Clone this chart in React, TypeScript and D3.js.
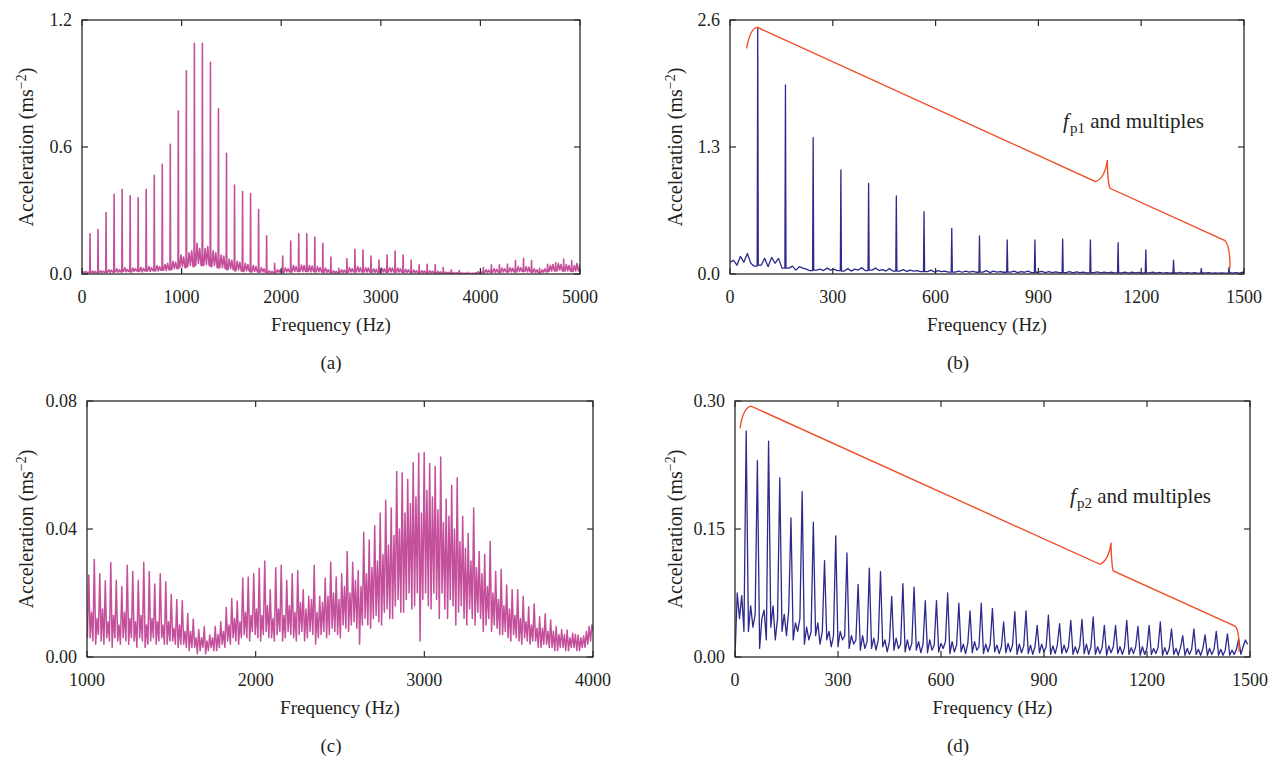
import React from 'react';
import * as d3 from 'd3';

// ---------- Panel (a): broadband spectrum, fundamental fp1 ----------
const aF0 = 80.6;
const aPeaks = [
  0.19, 0.21, 0.29, 0.376, 0.40, 0.37, 0.36, 0.40, 0.466, 0.518,
  0.613, 0.77, 0.96, 1.09, 1.09, 1.0, 0.78, 0.57, 0.42, 0.39,
  0.38, 0.305, 0.18, 0.05, 0.085, 0.156, 0.19, 0.19, 0.175, 0.145,
  0.08, 0.027, 0.072, 0.117, 0.113, 0.085, 0.066, 0.09, 0.109, 0.09,
  0.066, 0.043, 0.046, 0.043, 0.03, 0.02, 0.016, 0.008, 0.006, 0.03,
  0.043, 0.043, 0.047, 0.063, 0.074, 0.063, 0.027, 0.046, 0.054, 0.071,
  0.063, 0.043,
];
const aFloor = [
  0.01, 0.006, 0.012, 0.005, 0.008,
  0.006, 0.014, 0.005, 0.012, 0.006,
  0.007, 0.015, 0.006, 0.013, 0.008,
  0.008, 0.02, 0.007, 0.018, 0.009,
  0.01, 0.025, 0.008, 0.02, 0.01,
  0.012, 0.03, 0.01, 0.022, 0.012,
  0.01, 0.028, 0.012, 0.025, 0.014,
  0.012, 0.032, 0.01, 0.027, 0.015,
  0.014, 0.035, 0.012, 0.03, 0.016,
  0.015, 0.04, 0.014, 0.035, 0.018,
  0.018, 0.045, 0.016, 0.05, 0.02,
  0.02, 0.06, 0.025, 0.055, 0.025,
  0.03, 0.09, 0.035, 0.08, 0.03,
  0.035, 0.1, 0.04, 0.11, 0.035,
  0.04, 0.145, 0.05, 0.12, 0.04,
  0.04, 0.12, 0.045, 0.13, 0.04,
  0.035, 0.11, 0.04, 0.1, 0.03,
  0.03, 0.09, 0.03, 0.085, 0.025,
  0.02, 0.07, 0.025, 0.065, 0.02,
  0.015, 0.06, 0.02, 0.055, 0.015,
  0.012, 0.05, 0.015, 0.045, 0.012,
  0.01, 0.04, 0.012, 0.035, 0.01,
  0.008, 0.03, 0.01, 0.025, 0.008,
  0.006, 0.015, 0.005, 0.012, 0.006,
  0.006, 0.02, 0.008, 0.018, 0.008,
  0.008, 0.03, 0.01, 0.025, 0.01,
  0.01, 0.04, 0.012, 0.035, 0.012,
  0.012, 0.042, 0.012, 0.04, 0.012,
  0.012, 0.04, 0.01, 0.038, 0.012,
  0.01, 0.035, 0.01, 0.03, 0.01,
  0.008, 0.028, 0.008, 0.02, 0.008,
  0.006, 0.015, 0.005, 0.012, 0.006,
  0.006, 0.02, 0.007, 0.018, 0.008,
  0.008, 0.03, 0.01, 0.025, 0.01,
  0.01, 0.035, 0.01, 0.03, 0.01,
  0.01, 0.03, 0.009, 0.028, 0.01,
  0.008, 0.025, 0.008, 0.022, 0.008,
  0.008, 0.028, 0.009, 0.025, 0.009,
  0.009, 0.03, 0.01, 0.028, 0.01,
  0.008, 0.028, 0.009, 0.024, 0.008,
  0.007, 0.022, 0.007, 0.02, 0.007,
  0.006, 0.018, 0.006, 0.015, 0.006,
  0.005, 0.016, 0.005, 0.014, 0.005,
  0.005, 0.015, 0.005, 0.013, 0.005,
  0.004, 0.012, 0.004, 0.01, 0.004,
  0.003, 0.009, 0.003, 0.008, 0.003,
  0.003, 0.007, 0.002, 0.006, 0.002,
  0.002, 0.005, 0.002, 0.004, 0.002,
  0.002, 0.004, 0.002, 0.004, 0.002,
  0.003, 0.01, 0.004, 0.012, 0.005,
  0.006, 0.02, 0.007, 0.018, 0.008,
  0.008, 0.025, 0.008, 0.022, 0.009,
  0.008, 0.028, 0.01, 0.025, 0.01,
  0.01, 0.03, 0.01, 0.027, 0.01,
  0.01, 0.035, 0.012, 0.03, 0.012,
  0.012, 0.035, 0.01, 0.032, 0.01,
  0.008, 0.025, 0.008, 0.02, 0.006,
  0.006, 0.02, 0.008, 0.025, 0.01,
  0.012, 0.04, 0.014, 0.045, 0.015,
  0.015, 0.05, 0.018, 0.045, 0.015,
  0.014, 0.045, 0.015, 0.04, 0.014,
  0.012, 0.04, 0.014, 0.05, 0.015,
  0.015, 0.04, 0.02, 0.035, 0.03,
];
const aStart = 0.01;
const aXTicks = [0, 1000, 2000, 3000, 4000, 5000];
const aYTicks = [0, 0.6, 1.2];

// ---------- Panel (b): fp1 and multiples ----------
const bF0 = 80.9;
const bPeaks = [2.52, 1.935, 1.396, 1.065, 0.928, 0.80, 0.638, 0.468, 0.389, 0.348, 0.348, 0.358, 0.348, 0.32, 0.246, 0.143, 0.058, 0.068];
const bFloor = [
  0.14, 0.09, 0.18, 0.12, 0.21, 0.11, 0.08,
  0.09, 0.16, 0.075, 0.17, 0.11, 0.16, 0.06,
  0.06, 0.08, 0.04, 0.075, 0.06, 0.05, 0.035,
  0.04, 0.05, 0.035, 0.06, 0.04, 0.05, 0.035,
  0.03, 0.055, 0.03, 0.05, 0.04, 0.065, 0.035,
  0.04, 0.06, 0.035, 0.045, 0.03, 0.055, 0.03,
  0.03, 0.045, 0.025, 0.04, 0.03, 0.035, 0.025,
  0.025, 0.04, 0.02, 0.035, 0.025, 0.03, 0.02,
  0.02, 0.03, 0.018, 0.03, 0.02, 0.028, 0.018,
  0.02, 0.035, 0.015, 0.03, 0.02, 0.025, 0.018,
  0.02, 0.03, 0.015, 0.025, 0.018, 0.03, 0.015,
  0.018, 0.028, 0.015, 0.025, 0.015, 0.022, 0.015,
  0.015, 0.025, 0.012, 0.022, 0.015, 0.02, 0.012,
  0.015, 0.022, 0.012, 0.02, 0.012, 0.018, 0.012,
  0.012, 0.02, 0.01, 0.018, 0.012, 0.016, 0.01,
  0.012, 0.018, 0.01, 0.016, 0.01, 0.015, 0.01,
  0.01, 0.016, 0.008, 0.014, 0.01, 0.013, 0.008,
  0.01, 0.015, 0.008, 0.012, 0.008, 0.012, 0.008,
  0.01, 0.015, 0.01, 0.02, 0.01, 0.012, 0.01,
];
const bStart = 0.12;
const bXTicks = [0, 300, 600, 900, 1200, 1500];
const bYTicks = [0, 1.3, 2.6];
// brace: start, ctrl, apex, corner, ctrl, tip, ctrl, after, lineEnd, ctrl, end (data units)
const bBrace = [[48.7, 2.31], [58.4, 2.515], [79.7, 2.525], [1067, 0.945], [1094.4, 0.983], [1101.2, 1.167], [1101.7, 0.942], [1109, 0.877], [1444.6, 0.341], [1459.2, 0.297], [1459.2, 0.058]];
const bNoteAt = [972, 1.494];
const bNoteSub = 'p1';

// ---------- Panel (c): 1000-4000 Hz band ----------
const cF0 = 32.6;
const cKStart = 31;
const cPeaks = [
  0.0256, 0.0305, 0.026, 0.0238, 0.0295, 0.024, 0.022, 0.0287, 0.0267, 0.024,
  0.0295, 0.0267, 0.0228, 0.026, 0.0235, 0.0195, 0.018, 0.0176, 0.0136, 0.0119,
  0.0086, 0.0095, 0.0069, 0.0095, 0.011, 0.0155, 0.0183, 0.0175, 0.0247, 0.025,
  0.026,
  0.0277, 0.030, 0.021, 0.0279, 0.0287, 0.024, 0.026, 0.027, 0.021, 0.019,
  0.0287, 0.019, 0.0246, 0.0296, 0.025, 0.026, 0.033, 0.0296, 0.027, 0.039,
  0.0366, 0.041, 0.045, 0.049, 0.0466, 0.058, 0.0576, 0.0555, 0.0607, 0.0637,
  0.0639, 0.0605, 0.0595, 0.0625, 0.0494, 0.0536, 0.056, 0.044, 0.0386, 0.0466,
  0.033, 0.032, 0.0362, 0.0267, 0.0274, 0.0225, 0.021, 0.021, 0.019, 0.0157,
  0.0166, 0.0126, 0.0134, 0.0116, 0.0095, 0.0086, 0.0084, 0.0074, 0.0069, 0.0066,
  0.0095,
];
const cFloor = [
  0.012, 0.008, 0.006,
  0.006, 0.014, 0.005,
  0.004, 0.012, 0.007,
  0.005, 0.015, 0.004,
  0.006, 0.011, 0.005,
  0.003, 0.013, 0.006,
  0.005, 0.01, 0.004,
  0.006, 0.014, 0.005,
  0.004, 0.012, 0.006,
  0.005, 0.011, 0.003,
  0.006, 0.013, 0.005,
  0.003, 0.01, 0.004,
  0.005, 0.012, 0.006,
  0.004, 0.011, 0.005,
  0.006, 0.01, 0.004,
  0.004, 0.011, 0.005,
  0.005, 0.009, 0.004,
  0.003, 0.01, 0.004,
  0.004, 0.008, 0.003,
  0.002, 0.008, 0.003,
  0.003, 0.006, 0.001,
  0.002, 0.006, 0.003,
  0.001, 0.005, 0.002,
  0.003, 0.006, 0.002,
  0.002, 0.007, 0.003,
  0.004, 0.008, 0.003,
  0.005, 0.01, 0.004,
  0.006, 0.012, 0.005,
  0.004, 0.011, 0.006,
  0.007, 0.014, 0.006,
  0.005, 0.013, 0.008,
  0.007, 0.015, 0.006,
  0.005, 0.013, 0.007,
  0.008, 0.016, 0.006,
  0.006, 0.012, 0.005,
  0.007, 0.015, 0.008,
  0.005, 0.013, 0.006,
  0.008, 0.016, 0.007,
  0.006, 0.014, 0.005,
  0.007, 0.017, 0.008,
  0.005, 0.015, 0.006,
  0.008, 0.018, 0.007,
  0.004, 0.014, 0.006,
  0.007, 0.017, 0.008,
  0.006, 0.019, 0.007,
  0.009, 0.02, 0.008,
  0.007, 0.018, 0.006,
  0.01, 0.022, 0.009,
  0.008, 0.02, 0.01,
  0.011, 0.024, 0.009,
  0.004, 0.022, 0.01,
  0.012, 0.026, 0.01,
  0.009, 0.028, 0.012,
  0.013, 0.03, 0.011,
  0.01, 0.032, 0.014,
  0.015, 0.035, 0.012,
  0.012, 0.038, 0.016,
  0.018, 0.04, 0.014,
  0.014, 0.045, 0.018,
  0.02, 0.048, 0.015,
  0.016, 0.05, 0.02,
  0.005, 0.045, 0.018,
  0.02, 0.052, 0.016,
  0.015, 0.05, 0.02,
  0.018, 0.046, 0.012,
  0.02, 0.042, 0.015,
  0.012, 0.044, 0.018,
  0.016, 0.04, 0.01,
  0.014, 0.036, 0.016,
  0.012, 0.034, 0.01,
  0.015, 0.03, 0.012,
  0.01, 0.028, 0.014,
  0.012, 0.026, 0.008,
  0.01, 0.022, 0.012,
  0.008, 0.02, 0.01,
  0.009, 0.018, 0.007,
  0.007, 0.016, 0.008,
  0.006, 0.015, 0.005,
  0.007, 0.013, 0.006,
  0.005, 0.012, 0.004,
  0.006, 0.011, 0.005,
  0.004, 0.01, 0.005,
  0.005, 0.009, 0.003,
  0.003, 0.009, 0.004,
  0.004, 0.008, 0.003,
  0.003, 0.008, 0.002,
  0.002, 0.007, 0.003,
  0.003, 0.007, 0.002,
  0.002, 0.006, 0.003,
  0.003, 0.007, 0.002,
  0.002, 0.006, 0.003,
  0.003, 0.008, 0.004,
  0.005, 0.01, 0.008,
];
const cXTicks = [1000, 2000, 3000, 4000];
const cYTicks = [0, 0.04, 0.08];

// ---------- Panel (d): fp2 and multiples ----------
const dF0 = 32.6;
const dPeaks = [
  0.265, 0.230, 0.253, 0.210, 0.163, 0.194, 0.158, 0.113, 0.142, 0.122,
  0.085, 0.104, 0.100, 0.071, 0.086, 0.082, 0.066, 0.066, 0.075, 0.063,
  0.054, 0.063, 0.057, 0.041, 0.053, 0.054, 0.037, 0.049, 0.039, 0.043,
  0.044, 0.047, 0.037, 0.037, 0.043, 0.036, 0.037, 0.041, 0.033, 0.025,
  0.033, 0.026, 0.030, 0.027, 0.021,
];
const dFloor = [
  0.075, 0.045, 0.072, 0.03,
  0.03, 0.06, 0.035, 0.05,
  0.01, 0.045, 0.055, 0.02,
  0.035, 0.06, 0.02, 0.045,
  0.03, 0.05, 0.025, 0.055,
  0.02, 0.04, 0.03, 0.045,
  0.015, 0.035, 0.02, 0.03,
  0.025, 0.04, 0.015, 0.03,
  0.02, 0.03, 0.012, 0.025,
  0.012, 0.03, 0.02, 0.025,
  0.01, 0.025, 0.015, 0.02,
  0.008, 0.025, 0.01, 0.018,
  0.01, 0.022, 0.008, 0.02,
  0.012, 0.02, 0.006, 0.018,
  0.008, 0.022, 0.01, 0.015,
  0.006, 0.02, 0.008, 0.016,
  0.008, 0.018, 0.005, 0.015,
  0.005, 0.02, 0.008, 0.014,
  0.006, 0.016, 0.01, 0.018,
  0.004, 0.018, 0.006, 0.014,
  0.006, 0.015, 0.004, 0.016,
  0.005, 0.018, 0.008, 0.012,
  0.004, 0.015, 0.006, 0.015,
  0.006, 0.014, 0.004, 0.012,
  0.005, 0.016, 0.006, 0.014,
  0.003, 0.015, 0.005, 0.013,
  0.004, 0.014, 0.003, 0.012,
  0.005, 0.015, 0.006, 0.012,
  0.003, 0.013, 0.004, 0.014,
  0.004, 0.014, 0.005, 0.012,
  0.003, 0.012, 0.004, 0.013,
  0.004, 0.015, 0.003, 0.012,
  0.003, 0.012, 0.004, 0.011,
  0.002, 0.013, 0.005, 0.012,
  0.004, 0.012, 0.003, 0.011,
  0.003, 0.011, 0.004, 0.012,
  0.002, 0.012, 0.003, 0.01,
  0.003, 0.01, 0.004, 0.011,
  0.002, 0.011, 0.003, 0.01,
  0.003, 0.01, 0.002, 0.011,
  0.002, 0.01, 0.003, 0.009,
  0.003, 0.009, 0.002, 0.01,
  0.002, 0.01, 0.003, 0.009,
  0.002, 0.009, 0.002, 0.008,
  0.002, 0.008, 0.003, 0.009,
  0.003, 0.012, 0.02, 0.015,
];
const dStart = 0.0;
const dXTicks = [0, 300, 600, 900, 1200, 1500];
const dYTicks = [0, 0.15, 0.3];
const dBrace = [[14.6, 0.268], [23.3, 0.292], [46.6, 0.294], [1063.1, 0.1086], [1089.3, 0.1137], [1095.1, 0.134], [1096.6, 0.1078], [1101.8, 0.1008], [1456.3, 0.0363], [1469.4, 0.0316], [1468, 0.0062]];
const dNoteAt = [976, 0.1805];
const dNoteSub = 'p2';

// ---------- helpers ----------
type P = [number, number];

function buildTrace(f0: number, kStart: number, peaks: number[], floor: number[], per: number, foot: number, start?: P): P[] {
  const pts: P[] = [];
  if (start) pts.push(start);
  for (let p = 0; p <= peaks.length; p++) {
    const base = (kStart - 1 + p) * f0;
    for (let j = 0; j < per; j++) {
      pts.push([base + ((j + 1) / (per + 1)) * f0, floor[p * per + j]]);
    }
    if (p < peaks.length) {
      const pk = base + f0;
      if (foot > 0) pts.push([pk - foot * f0, floor[p * per + per - 1]]);
      pts.push([pk, peaks[p]]);
      if (foot > 0 && (p + 1) * per < floor.length) pts.push([pk + foot * f0, floor[(p + 1) * per]]);
    }
  }
  return pts;
}

const FONT = '"Liberation Serif", "Times New Roman", serif';
const PINK = '#C4509B';
const BLUE = '#2C2A8C';
const RED = '#F0502A';
const FRAME = '#2a2a2a';

interface PanelProps {
  id: string;
  box: [number, number, number, number];
  xDomain: [number, number];
  yDomain: [number, number];
  xTicks: number[];
  yTicks: number[];
  yFmt: string;
  trace: P[];
  color: string;
  lw: number;
  yLabelX: number;
  label: string;
  labelX: number;
  labelY: number;
  brace?: number[][];
  noteAt?: number[];
  noteSub?: string;
}

function Panel(props: PanelProps) {
  const { id, box, xDomain, yDomain, xTicks, yTicks, yFmt, trace, color, lw, yLabelX, label, labelX, labelY, brace, noteAt, noteSub } = props;
  const [x0, y0, x1, y1] = box;
  const x = d3.scaleLinear().domain(xDomain).range([x0, x1]);
  const y = d3.scaleLinear().domain(yDomain).range([y1, y0]);
  const line = d3.line<P>().x((d) => x(d[0])).y((d) => y(d[1]));
  const fmt = d3.format(yFmt);
  const tl = 6;
  let bracePath = '';
  if (brace) {
    const s = (i: number): [number, number] => [x(brace[i][0]), y(brace[i][1])];
    const p = d3.path();
    p.moveTo(...s(0));
    p.quadraticCurveTo(...s(1), ...s(2));
    p.lineTo(...s(3));
    p.quadraticCurveTo(...s(4), ...s(5));
    p.quadraticCurveTo(...s(6), ...s(7));
    p.lineTo(...s(8));
    p.quadraticCurveTo(...s(9), ...s(10));
    bracePath = p.toString();
  }
  const cx = (x0 + x1) / 2;
  return (
    <g fontFamily={FONT} fill="#231f20" style={{ fontFamily: FONT }}>
      <defs>
        <clipPath id={`clip-${id}`}>
          <rect x={x0} y={y0} width={x1 - x0} height={y1 - y0} />
        </clipPath>
      </defs>
      <path d={line(trace) || ''} fill="none" stroke={color} strokeWidth={lw} strokeLinejoin="round" clipPath={`url(#clip-${id})`} />
      {brace && <path d={bracePath} fill="none" stroke={RED} strokeWidth={1.4} />}
      {noteAt && (
        <text x={x(noteAt[0])} y={y(noteAt[1])} fontSize={21}>
          <tspan fontStyle="italic">f</tspan>
          <tspan dy={5} fontSize={15} dx={1}>{noteSub}</tspan>
          <tspan dy={-5}> and multiples</tspan>
        </text>
      )}
      <rect x={x0} y={y0} width={x1 - x0} height={y1 - y0} fill="none" stroke={FRAME} strokeWidth={1.3} />
      {xTicks.map((t) => (
        <g key={`x${t}`}>
          <line x1={x(t)} x2={x(t)} y1={y1} y2={y1 - tl} stroke={FRAME} strokeWidth={1.2} />
          <line x1={x(t)} x2={x(t)} y1={y0} y2={y0 + tl} stroke={FRAME} strokeWidth={1.2} />
          <text x={x(t)} y={y1 + 29} textAnchor="middle" fontSize={18}>{t}</text>
        </g>
      ))}
      {yTicks.map((t) => (
        <g key={`y${t}`}>
          <line x1={x0} x2={x0 + tl} y1={y(t)} y2={y(t)} stroke={FRAME} strokeWidth={1.2} />
          <line x1={x1} x2={x1 - tl} y1={y(t)} y2={y(t)} stroke={FRAME} strokeWidth={1.2} />
          <text x={x0 - 10} y={y(t) + 6} textAnchor="end" fontSize={18}>{fmt(t)}</text>
        </g>
      ))}
      <text x={cx} y={y1 + 57} textAnchor="middle" fontSize={19}>Frequency (Hz)</text>
      <text transform={`translate(${yLabelX},${(y0 + y1) / 2}) rotate(-90)`} textAnchor="middle" fontSize={20}>
        Acceleration (ms<tspan dy={-7} fontSize={14}>−2</tspan><tspan dy={7}>)</tspan>
      </text>
      <text x={labelX} y={labelY} textAnchor="middle" fontSize={19}>{label}</text>
    </g>
  );
}

export default function App() {
  const aTrace = buildTrace(aF0, 1, aPeaks, aFloor, 5, 0.04, [0, aStart]);
  const bTrace = buildTrace(bF0, 1, bPeaks, bFloor, 7, 0.02, [0, bStart]);
  const cTrace = buildTrace(cF0, cKStart, cPeaks, cFloor, 3, 0);
  const dTrace = buildTrace(dF0, 1, dPeaks, dFloor, 4, 0, [0, dStart]);
  return (
    <svg width={1279} height={759} style={{ position: 'absolute', left: 0, top: 0, background: '#fff' }}>
      <rect x={0} y={0} width={1279} height={759} fill="#fff" />
      <Panel id="a" box={[82, 20, 580, 274]} xDomain={[0, 5000]} yDomain={[0, 1.2]} xTicks={aXTicks} yTicks={aYTicks} yFmt=".1f"
        trace={aTrace} color={PINK} lw={1.6} yLabelX={33} label="(a)" labelX={331} labelY={369} />
      <Panel id="b" box={[730, 20, 1244, 274]} xDomain={[0, 1500]} yDomain={[0, 2.6]} xTicks={bXTicks} yTicks={bYTicks} yFmt=".1f"
        trace={bTrace} color={BLUE} lw={1.3} yLabelX={682} label="(b)" labelX={958} labelY={369}
        brace={bBrace} noteAt={bNoteAt} noteSub={bNoteSub} />
      <Panel id="c" box={[87, 401, 593, 657]} xDomain={[1000, 4000]} yDomain={[0, 0.08]} xTicks={cXTicks} yTicks={cYTicks} yFmt=".2f"
        trace={cTrace} color={PINK} lw={1.5} yLabelX={33} label="(c)" labelX={331} labelY={752} />
      <Panel id="d" box={[735, 401, 1250, 657]} xDomain={[0, 1500]} yDomain={[0, 0.3]} xTicks={dXTicks} yTicks={dYTicks} yFmt=".2f"
        trace={dTrace} color={BLUE} lw={1.3} yLabelX={682} label="(d)" labelX={958} labelY={752}
        brace={dBrace} noteAt={dNoteAt} noteSub={dNoteSub} />
    </svg>
  );
}
